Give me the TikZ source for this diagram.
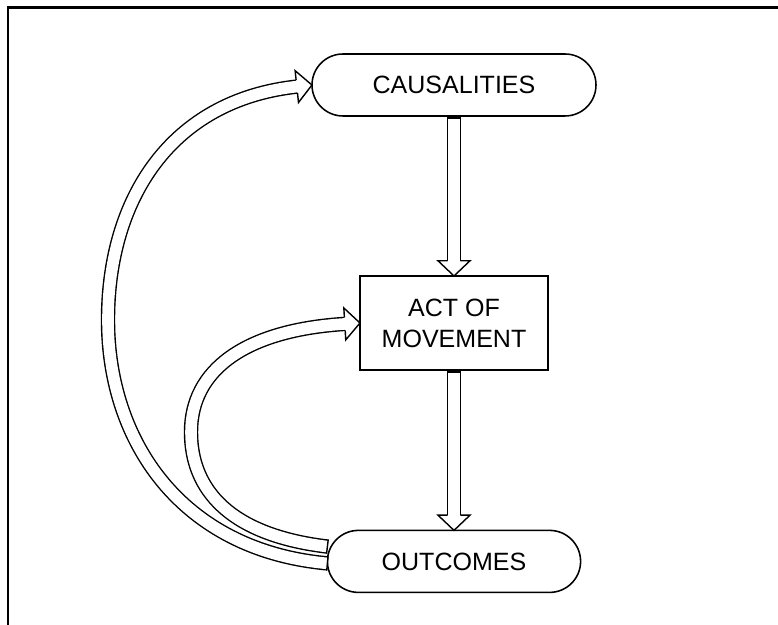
\documentclass[tikz,border=0pt]{standalone}
\usepackage{fontspec}
\setsansfont{Liberation Sans}
\usetikzlibrary{shapes.misc,decorations.markings}

\definecolor{mvline}{RGB}{0,0,0}
\definecolor{mvtext}{RGB}{0,0,0}

\begin{document}
\begin{tikzpicture}[
  x=1cm,
  y=1cm,
  every node/.style={inner sep=0pt, outer sep=0pt},
  label/.style={font=\sffamily\fontsize{17.8}{22}\selectfont, text=mvtext, align=center},
  pillbox/.style={label, draw=mvline, fill=white, rounded rectangle, line width=1.1pt, minimum height=1.55cm},
  actbox/.style={label, draw=mvline, fill=white, rectangle, line width=1.1pt, minimum width=4.7cm, minimum height=2.35cm},
  hollow/.style={draw=mvline, line width=1pt, double=white, double distance=0.29cm, shorten >=0.36cm,
    postaction={decorate, decoration={markings,
      mark=at position 0 with {\draw[mvline, line width=1pt, shorten >=0pt] (0,0.18) -- (0,-0.18);},
      mark=at position 0.9999 with {\draw[mvline, fill=white, line width=1pt, shorten >=0pt, line join=miter]
        (-0.38,0.162) -- (-0.38,0.4) -- (0,0) -- (-0.38,-0.4) -- (-0.38,-0.162);}}}}
]

  \path[use as bounding box] (0,0) rectangle (19.45,15.625);

  % Frame
  \draw[mvline, line width=1.8pt] (0.2,-0.2) -- (0.2,15.44) -- (19.7,15.44);

  % Nodes
  \node[pillbox, minimum width=7.1cm] (caus) at (11.35,13.5) {CAUSALITIES};
  \node[actbox] (act) at (11.35,7.55) {ACT OF\\MOVEMENT};
  \node[pillbox, minimum width=6.33cm] (outc) at (11.35,1.59) {OUTCOMES};

  % Arrows
  \draw[hollow] ([yshift=-0.05cm]caus.south) -- (act.north);
  \draw[hollow] ([yshift=-0.05cm]act.south) -- (outc.north);
  \draw[hollow] ([yshift=-0.05cm]outc.west) .. controls (4.5,1.875) and (2.7,4.625) .. (2.7,7.625)
    .. controls (2.7,10.625) and (4.25,13.125) .. (caus.west);
  \draw[hollow] ([yshift=0.37cm]outc.west) .. controls (5.75,2.25) and (4.775,3.375) .. (4.775,4.825)
    .. controls (4.775,6.375) and (6.125,7.375) .. (act.west);

\end{tikzpicture}
\end{document}
